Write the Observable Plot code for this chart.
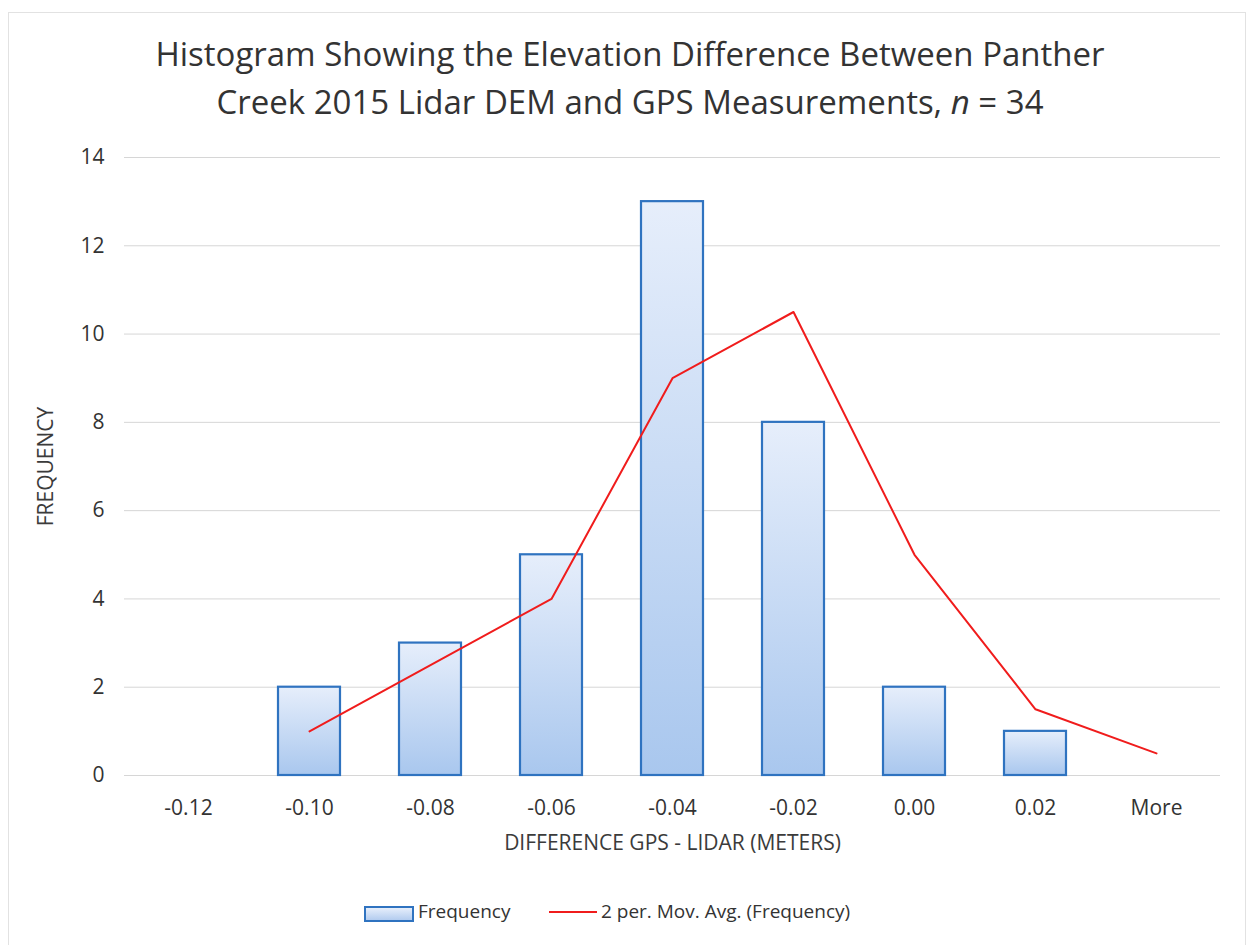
<!DOCTYPE html>
<html>
<head>
<meta charset="utf-8">
<script src="https://cdn.jsdelivr.net/npm/d3@7"></script>
<script src="https://cdn.jsdelivr.net/npm/@observablehq/plot@0.6"></script>
<style>
  body { margin: 0; background: #fff; font-family: "Open Sans", sans-serif; color: #3b3b3b; }
  #frame { position: absolute; left: 8px; top: 12px; width: 1236px; height: 960px; border: 1px solid #e2e2e2; border-bottom: none; }
  #title { position: absolute; top: 30px; left: 13px; width: 1234px; text-align: center; font-size: 33px; line-height: 48px; color: #333; }
  #chart { position: absolute; top: 122px; left: 0; }
  #chart svg text { font-size: 21px !important; font-family: "Open Sans", sans-serif !important; }
  .leg { position: absolute; font-size: 19px; color: #333; line-height: 24px; }
</style>
</head>
<body>
<div id="frame"></div>
<div id="title">Histogram Showing the Elevation Difference Between Panther<br>Creek 2015 Lidar DEM and GPS Measurements, <i>n</i> = 34</div>
<div id="chart"></div>
<div id="legend"></div>
<script>
const bins = ["-0.12", "-0.10", "-0.08", "-0.06", "-0.04", "-0.02", "0.00", "0.02", "More"];
const frequency = [0, 2, 3, 5, 13, 8, 2, 1, 0];
const movAvgBins = ["-0.10", "-0.08", "-0.06", "-0.04", "-0.02", "0.00", "0.02", "More"];
const movAvg = [1, 2.5, 4, 9, 10.5, 5, 1.5, 0.5];
const yTicks = [0, 2, 4, 6, 8, 10, 12, 14];
const xLabel = "DIFFERENCE GPS - LIDAR (METERS)";
const yLabel = "FREQUENCY";
const seriesNames = ["Frequency", "2 per. Mov. Avg. (Frequency)"];

const barData = bins.map((b, i) => ({bin: b, freq: frequency[i]}));
const lineData = movAvgBins.map((b, i) => ({bin: b, avg: movAvg[i]}));

const chart = Plot.plot({
  width: 1247,
  height: 740,
  marginLeft: 124,
  marginRight: 27,
  marginTop: 35,
  marginBottom: 87,
  style: {fontFamily: "'Open Sans', sans-serif", fontSize: "21px", color: "#333", background: "transparent"},
  x: {domain: bins, paddingInner: 0.49, paddingOuter: 0.245, label: null},
  y: {domain: [0, 14], ticks: yTicks, label: null},
  marks: [
    Plot.gridY(yTicks, {stroke: "#d6d6d6", strokeOpacity: 1, strokeWidth: 1}),
    Plot.axisY(yTicks, {tickSize: 0, tickPadding: 20, label: null, fontSize: 21, fill: "#333"}),
    Plot.axisX({tickSize: 0, tickPadding: 25, label: null, fontSize: 21, fill: "#333"}),
    Plot.barY(barData.filter(d => d.freq > 0), {x: "bin", y: "freq", fill: "url(#barGrad)", stroke: "#2f73c0", strokeWidth: 2.2}),
    Plot.line(lineData, {x: "bin", y: "avg", stroke: "#f01c1c", strokeWidth: 2}),
    Plot.text([xLabel], {frameAnchor: "bottom", lineAnchor: "middle", dy: 68, fontSize: 21, fill: "#3b3b3b"}),
    Plot.text([yLabel], {frameAnchor: "left", textAnchor: "middle", lineAnchor: "middle", dx: -78, rotate: -90, fontSize: 21, fill: "#3b3b3b"})
  ]
});

d3.select(chart).insert("defs", ":first-child").html(
  '<linearGradient id="barGrad" x1="0" y1="0" x2="0" y2="1">' +
  '<stop offset="0" stop-color="#e6eefb"/>' +
  '<stop offset="1" stop-color="#a9c7ee"/>' +
  '</linearGradient>'
);
document.getElementById("chart").appendChild(chart);

// legend
const legend = document.getElementById("legend");
legend.innerHTML =
  '<div style="position:absolute;left:364px;top:906px;width:46px;height:12px;border:2px solid #2f73c0;background:linear-gradient(#e6eefb,#b3ccef);"></div>' +
  '<div class="leg" style="left:418px;top:899px;">' + seriesNames[0] + '</div>' +
  '<div style="position:absolute;left:549px;top:911px;width:48px;height:2px;background:#f01c1c;"></div>' +
  '<div class="leg" style="left:601px;top:899px;">' + seriesNames[1] + '</div>';
</script>
</body>
</html>
